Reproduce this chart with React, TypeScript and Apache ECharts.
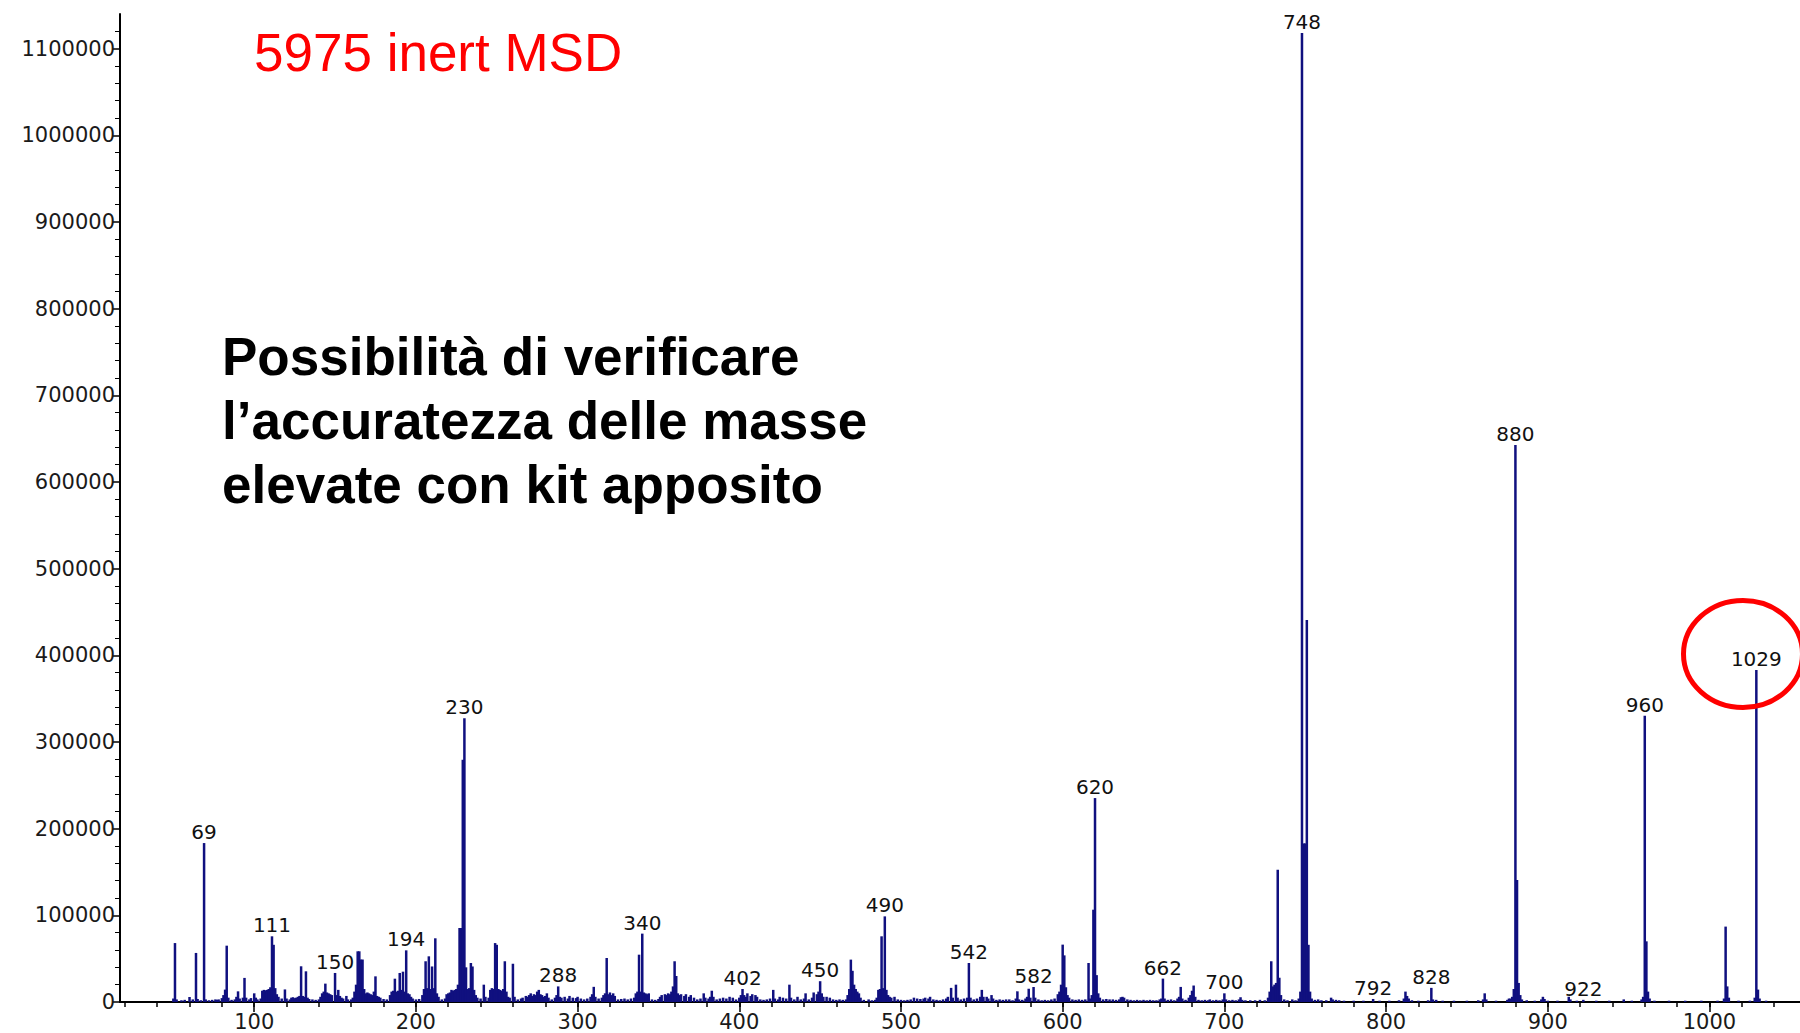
import React, { useEffect, useRef } from "react";
import * as echarts from "echarts";

// m/z tick labels (major) and minor tick positions
const massTicks = [100, 200, 300, 400, 500, 600, 700, 800, 900, 1000];
const massMinorTicks = [20, 40, 60, 80, 100, 120, 140, 160, 180, 200, 220, 240, 260, 280, 300, 320, 340, 360, 380, 400, 420, 440, 460, 480, 500, 520, 540, 560, 580, 600, 620, 640, 660, 680, 700, 720, 740, 760, 780, 800, 820, 840, 860, 880, 900, 920, 940, 960, 980, 1000, 1020, 1040];
const abundanceTicks = [0, 100000, 200000, 300000, 400000, 500000, 600000, 700000, 800000, 900000, 1000000, 1100000];
const abundanceMinorTicks = [20000, 40000, 60000, 80000, 120000, 140000, 160000, 180000, 220000, 240000, 260000, 280000, 320000, 340000, 360000, 380000, 420000, 440000, 460000, 480000, 520000, 540000, 560000, 580000, 620000, 640000, 660000, 680000, 720000, 740000, 760000, 780000, 820000, 840000, 860000, 880000, 920000, 940000, 960000, 980000, 1020000, 1040000, 1060000, 1080000, 1120000];

// labelled peaks
const labeledMasses = [69, 111, 150, 194, 230, 288, 340, 402, 450, 490, 542, 582, 620, 662, 700, 748, 792, 828, 880, 922, 960, 1029];

// spectrum sticks: [m/z, abundance]
const spectrumLow: [number, number][] = [
  [50, 4000], [51, 68000], [52, 3000], [55, 2000], [57, 2500], [60, 5800], [62, 3000], [64, 56600], [65, 3500], [67, 2000],
  [69, 183400], [70, 3000], [72, 2000], [74, 2500], [76, 3000], [77, 2500], [78, 3000], [80, 4500], [81, 8000], [82, 14300],
  [83, 65000], [84, 5000], [86, 2500], [88, 3000], [89, 6000], [90, 12300], [91, 4000], [93, 5000], [94, 27800], [95, 5000],
  [97, 3000], [98, 4500], [100, 10000], [101, 5000], [102, 3000], [104, 4000], [105, 13000], [106, 14000], [107, 13500], [108, 14000],
  [109, 15000], [110, 17000], [111, 75800], [112, 66000], [113, 16000], [114, 9000], [115, 6000], [117, 4000], [119, 14500], [120, 4000],
  [122, 3000], [123, 5000], [124, 5500], [125, 4500], [126, 5000], [127, 6000], [128, 7000], [129, 41200], [130, 7000], [131, 6000],
  [132, 35400], [133, 5000], [134, 3500], [136, 3000], [138, 2500], [140, 3000], [141, 6000], [142, 10000], [143, 12000], [144, 21200],
  [145, 11000], [146, 10000], [147, 9000], [148, 8000], [150, 33500], [151, 8000], [152, 14000], [153, 7000], [154, 5000], [155, 4000],
  [157, 7000], [158, 3000], [160, 3000], [161, 5000], [162, 12000], [163, 20000], [164, 58500], [165, 58500], [166, 49000], [167, 49000],
  [168, 15000], [169, 10000], [170, 11000], [171, 10000], [172, 9000], [173, 8000], [174, 12000], [175, 29600], [176, 7000], [177, 6000],
  [178, 5000], [180, 3500], [182, 3000], [184, 8000], [185, 12000], [186, 13000], [187, 26900], [188, 12000], [189, 13000], [190, 33500],
  [191, 14000], [192, 35000], [193, 12000], [194, 59600], [195, 10000], [196, 9000], [197, 6000], [198, 4000], [200, 3000], [202, 3500],
  [204, 8000], [205, 15000], [206, 47000], [207, 16000], [208, 52700], [209, 15000], [210, 41000], [211, 16000], [212, 73500], [213, 10000],
  [214, 6000], [216, 3000], [218, 4000], [219, 9000], [220, 10000], [221, 11000], [222, 14000], [223, 13000], [224, 14000], [225, 15000],
  [226, 20000], [227, 85400], [228, 85400], [229, 279500], [230, 327500], [231, 40000], [232, 15000], [233, 16000], [234, 45000], [235, 41000],
  [236, 14000], [237, 8000], [238, 5000], [240, 4000], [242, 20000], [243, 6000], [245, 5000], [246, 14000], [247, 16000], [248, 15000],
  [249, 68000], [250, 66000], [251, 15000], [252, 14000], [253, 13000], [254, 15000], [255, 47000], [256, 12000], [257, 6000], [258, 5000],
  [260, 44000], [261, 6000], [263, 3000], [265, 4000], [266, 5000], [268, 7000], [269, 6000], [270, 8000], [271, 10000], [272, 7000],
  [273, 9000], [274, 8000], [275, 12000], [276, 14000], [277, 9000], [278, 8000], [279, 6000], [280, 7000], [281, 10000], [282, 5000],
  [284, 3000], [286, 5000], [287, 8000], [288, 18000], [289, 6000], [290, 5000], [292, 6000], [294, 4000], [295, 7000], [297, 5000],
  [299, 4500], [300, 6000], [302, 4000], [304, 3000], [306, 4000], [308, 6000], [309, 9000], [310, 17500], [311, 6000], [313, 4000],
  [315, 5000], [316, 8000], [317, 10000], [318, 50800], [319, 9000], [320, 11000], [321, 8000], [322, 10000], [323, 7000], [325, 3000],
  [327, 3500], [329, 4000], [331, 3000], [333, 4000], [335, 5000], [336, 10000], [337, 12000], [338, 54600], [339, 12000], [340, 78900],
  [341, 11000], [342, 10000], [343, 9000], [344, 10000], [346, 3000], [348, 2500], [350, 3500], [351, 6000], [352, 8000], [354, 9000],
  [355, 8000], [356, 10000], [357, 9000], [358, 12000], [359, 18000], [360, 47000], [361, 30000], [362, 10000], [363, 8000], [364, 9000],
  [366, 7000], [367, 9000], [369, 6000], [370, 8000], [372, 5000], [374, 3000], [376, 4000], [378, 10000], [379, 5000], [381, 4000],
  [382, 6000], [383, 13000], [384, 6000], [386, 3000], [388, 4000], [390, 5000], [392, 4000], [394, 6000], [396, 5000], [398, 3000],
];

const spectrumMid: [number, number][] = [
  [400, 5000], [401, 8000], [402, 15000], [403, 8000], [404, 6000], [405, 10000], [407, 7000], [408, 9000], [410, 8000], [411, 6000],
  [413, 3000], [415, 2500], [417, 3000], [419, 4000], [421, 14000], [422, 4000], [424, 3000], [425, 6000], [427, 5000], [429, 4000],
  [431, 20000], [432, 5000], [434, 3000], [436, 6000], [438, 3000], [440, 4000], [441, 10000], [443, 3000], [445, 5000], [446, 11000],
  [448, 9000], [449, 12000], [450, 24000], [451, 10000], [452, 6000], [454, 6000], [456, 5000], [458, 3000], [460, 2500], [462, 3000],
  [464, 2500], [466, 3000], [467, 8000], [468, 15000], [469, 48900], [470, 36000], [471, 20000], [472, 15000], [473, 12000], [474, 10000],
  [475, 5000], [477, 2500], [480, 3000], [482, 2000], [484, 2500], [485, 5000], [486, 14000], [487, 15000], [488, 75800], [489, 16000],
  [490, 98800], [491, 14000], [492, 8000], [493, 6000], [494, 5000], [496, 6000], [498, 3000], [500, 2500], [502, 2000], [504, 2500],
  [506, 3000], [508, 5000], [510, 4000], [512, 3500], [514, 4000], [515, 5000], [517, 4000], [518, 6000], [520, 3000], [522, 2500],
  [524, 2000], [526, 3000], [528, 4000], [529, 6000], [531, 16300], [532, 5000], [534, 20000], [535, 5000], [537, 3000], [539, 4000],
  [541, 5000], [542, 45000], [543, 5000], [545, 3000], [547, 4000], [549, 6000], [550, 14000], [551, 6000], [553, 6000], [554, 4000],
  [556, 8000], [557, 4000], [559, 2500], [561, 3000], [563, 2500], [565, 3000], [567, 3000], [569, 2000], [571, 4000], [572, 12300],
  [573, 3000], [575, 2500], [577, 4000], [578, 6000], [579, 15300], [580, 5000], [582, 17300], [583, 5000], [585, 3000], [587, 2000],
  [589, 2500], [591, 2000], [593, 3000], [595, 4000], [597, 9000], [598, 12000], [599, 20000], [600, 66200], [601, 53800], [602, 17000],
  [603, 8000], [604, 5000], [606, 3000], [608, 2500], [610, 3000], [612, 2500], [614, 3000], [616, 45000], [617, 4000], [618, 8000],
  [619, 106500], [620, 235300], [621, 31000], [622, 10000], [623, 5000], [625, 3000], [627, 3500], [629, 3000], [631, 3000], [633, 2500],
  [635, 3000], [636, 5500], [637, 6000], [638, 5000], [640, 3000], [642, 2500], [644, 2000], [646, 2500], [648, 2000], [650, 2500],
  [652, 2000], [654, 2500], [656, 2000], [658, 2000], [660, 3000], [661, 4000], [662, 27000], [663, 4000], [665, 2500], [667, 3000],
  [669, 2000], [671, 4000], [672, 6000], [673, 17400], [674, 4000], [676, 2500], [678, 5000], [679, 8000], [680, 13000], [681, 19000],
  [682, 6000], [684, 2500], [686, 2000], [688, 2500], [690, 2000], [691, 3000], [693, 2000], [695, 2500], [697, 2000], [699, 3000],
];

const spectrumHigh: [number, number][] = [
  [700, 10000], [701, 3000], [703, 2000], [705, 2500], [707, 2000], [709, 3000], [710, 5500], [711, 2500], [713, 2000], [716, 2000],
  [719, 2000], [722, 2500], [725, 2000], [727, 5000], [728, 12000], [729, 47000], [730, 18000], [731, 20000], [732, 22000], [733, 152600],
  [734, 28000], [735, 8000], [737, 3000], [739, 2000], [742, 3000], [744, 2000], [746, 4000], [747, 12000], [748, 1118000], [749, 183000],
  [750, 183000], [751, 440900], [752, 66000], [753, 12000], [754, 4000], [756, 2500], [758, 3000], [760, 2000], [763, 2000], [766, 5000],
  [767, 3000], [769, 2500], [771, 2000], [774, 1500], [780, 1500], [786, 1500], [792, 3500], [796, 1500], [802, 1500], [808, 2000],
  [811, 4000], [812, 12000], [813, 7000], [814, 4000], [816, 2000], [820, 1500], [826, 2000], [828, 16300], [829, 3000], [831, 2500],
  [835, 1500], [842, 1500], [850, 1500], [857, 2000], [860, 3000], [861, 10000], [862, 3000], [868, 1500], [875, 2500], [876, 4000],
  [877, 4000], [878, 6000], [879, 15000], [880, 642600], [881, 140800], [882, 22000], [883, 8000], [884, 3000], [887, 2000], [892, 1500],
  [896, 3000], [897, 6000], [898, 3500], [900, 1500], [906, 1500], [913, 6000], [914, 3000], [918, 1500], [922, 2500], [930, 1500],
  [938, 1500], [947, 3000], [952, 1500], [958, 3000], [959, 6000], [960, 330200], [961, 70000], [962, 12000], [963, 4000], [966, 1500],
  [975, 1500], [985, 1500], [995, 1500], [1005, 1500], [1009, 4000], [1010, 87000], [1011, 18000], [1012, 5000], [1018, 1500], [1025, 1500],
  [1028, 5000], [1029, 383200], [1030, 14300], [1031, 4000], [1035, 1500],
];

const MASS_MIN = 17;
const MASS_MAX = 1056;
const ABUND_MAX = 1140000;

const TICK_FONT = "DejaVu Sans";

export default function App() {
  const ref = useRef<HTMLDivElement>(null);

  useEffect(() => {
    if (!ref.current) return;
    const chart = echarts.init(ref.current, undefined, { renderer: "svg" });
    const all = [...spectrumLow, ...spectrumMid, ...spectrumHigh];
    const data = all.map(([m, v]) =>
      labeledMasses.includes(m) ? { value: [m, v], label: { show: true } } : { value: [m, v] }
    );
    const plain = (v: number) => String(v);

    chart.setOption({
      animation: false,
      backgroundColor: "#ffffff",
      grid: { left: 120, right: 0, top: 14, bottom: 31, containLabel: false },
      xAxis: [
        {
          type: "value",
          position: "bottom",
          min: MASS_MIN,
          max: MASS_MAX,
          axisLine: { show: true, onZero: false, lineStyle: { color: "#000", width: 2 } },
          axisTick: { show: true, customValues: massTicks, length: 10, lineStyle: { color: "#000", width: 1.5 } },
          axisLabel: { show: true, customValues: massTicks, formatter: plain, margin: 9, fontFamily: TICK_FONT, fontSize: 21, color: "#1a1a1a" },
          splitLine: { show: false },
        },
        {
          type: "value",
          position: "bottom",
          min: MASS_MIN,
          max: MASS_MAX,
          axisLine: { show: false },
          axisTick: { show: true, customValues: massMinorTicks, length: 5, lineStyle: { color: "#000", width: 1.5 } },
          axisLabel: { show: false },
          splitLine: { show: false },
        },
      ],
      yAxis: [
        {
          type: "value",
          position: "left",
          min: 0,
          max: ABUND_MAX,
          interval: 100000,
          axisLine: { show: true, onZero: false, lineStyle: { color: "#000", width: 2 } },
          axisTick: { show: true, customValues: abundanceTicks, length: 7, lineStyle: { color: "#000", width: 1.5 } },
          axisLabel: { show: true, customValues: abundanceTicks, formatter: plain, margin: 5, fontFamily: TICK_FONT, fontSize: 21, color: "#1a1a1a" },
          splitLine: { show: false },
        },
        {
          type: "value",
          position: "left",
          min: 0,
          max: ABUND_MAX,
          axisLine: { show: false },
          axisTick: { show: true, customValues: abundanceMinorTicks, length: 5, lineStyle: { color: "#000", width: 1 } },
          axisLabel: { show: false },
          splitLine: { show: false },
        },
      ],
      series: [
        {
          type: "bar",
          xAxisIndex: 0,
          yAxisIndex: 0,
          barWidth: 2.5,
          itemStyle: { color: "#10107f" },
          label: {
            show: false,
            position: "top",
            distance: 1,
            fontFamily: TICK_FONT,
            fontSize: 20,
            color: "#111",
            formatter: (p: any) => String(p.value[0]),
          },
          data,
        },
      ],
      graphic: [
        {
          type: "text",
          x: 254,
          y: 52.5,
          style: {
            text: "5975 inert MSD",
            fontFamily: "Liberation Sans",
            fontSize: 53,
            fill: "#ff0000",
            align: "left",
            verticalAlign: "middle",
          },
          z: 100,
        },
        {
          type: "text",
          x: 222,
          y: 356,
          style: { text: "Possibilità di verificare", fontFamily: "Liberation Sans", fontWeight: "bold", fontSize: 53, fill: "#000", align: "left", verticalAlign: "middle" },
          z: 100,
        },
        {
          type: "text",
          x: 222,
          y: 420.3,
          style: { text: "l’accuratezza delle masse", fontFamily: "Liberation Sans", fontWeight: "bold", fontSize: 53, fill: "#000", align: "left", verticalAlign: "middle" },
          z: 100,
        },
        {
          type: "text",
          x: 222,
          y: 484.6,
          style: { text: "elevate con kit apposito", fontFamily: "Liberation Sans", fontWeight: "bold", fontSize: 53, fill: "#000", align: "left", verticalAlign: "middle" },
          z: 100,
        },
        {
          type: "ellipse",
          shape: { cx: 1743, cy: 654, rx: 59.5, ry: 53.5 },
          style: { fill: "none", stroke: "#ff0000", lineWidth: 5 },
          z: 100,
        },
      ],
    });

    return () => chart.dispose();
  }, []);

  return (
    <div
      ref={ref}
      style={{ position: "fixed", left: 0, top: 0, width: 1800, height: 1033, background: "#fff" }}
    />
  );
}
